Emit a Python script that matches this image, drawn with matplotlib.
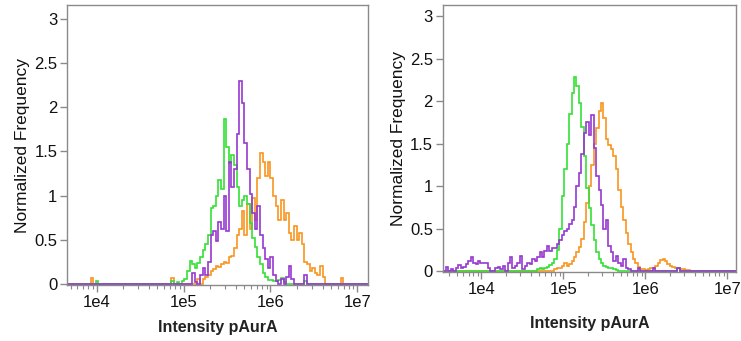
import numpy as np
import matplotlib
matplotlib.use("Agg")
import matplotlib.pyplot as plt

plt.rcParams['font.family'] = ['Liberation Sans', 'DejaVu Sans']

# common histogram grid, log10(intensity), 0.03 decade per bin
GRID_START = 3.48
GRID_STEP = 0.03
edges_exp = np.round(np.arange(GRID_START, 7.2, GRID_STEP), 3)
edges = 10 ** edges_exp

# --- left panel ---
green_left_start = 4.965
green_left = [0.0, 0.03, 0.05, 0.15, 0.26, 0.22, 0.18, 0.24, 0.3, 0.38, 0.45,
              0.55, 0.86, 0.88, 1.0, 1.18, 1.08, 1.87, 1.55, 1.37, 1.46, 1.35,
              1.1, 0.88, 0.95, 0.99, 0.91, 0.69, 0.52, 0.42, 0.3, 0.22, 0.12,
              0.08, 0.045, 0.04, 0.03, 0.03, 0.04, 0.06, 0.02]
green_left_blips = [(4.005, 0.03), (4.875, 0.03), (4.935, 0.02), (6.405, 0.03)]

purple_left_start = 5.085
purple_left = [0.0, 0.12, 0.02, 0.0, 0.1, 0.18, 0.1, 0.25, 0.55, 0.6, 0.48,
               0.7, 0.62, 1.0, 0.6, 1.38, 1.1, 1.3, 1.7, 2.3, 2.05, 1.6, 1.3,
               1.02, 0.8, 0.62, 0.88, 0.55, 0.4, 0.28, 0.18, 0.3, 0.1, 0.03,
               0.0, 0.05, 0.0, 0.08, 0.2, 0.05, 0.0, 0.0, 0.0, 0.0, 0.1, 0.0]
purple_left_blips = []

orange_left_start = 5.175
orange_left = [0.05, 0.0, 0.05, 0.08, 0.1, 0.15, 0.17, 0.2, 0.19, 0.22, 0.25,
               0.24, 0.3, 0.32, 0.4, 0.55, 0.62, 0.82, 0.55, 0.9, 0.62, 0.97,
               0.72, 1.2, 1.48, 1.38, 1.22, 1.38, 1.2, 1.0, 0.88, 0.72, 0.95,
               0.72, 0.8, 0.58, 0.5, 0.66, 0.5, 0.58, 0.45, 0.25, 0.22, 0.15,
               0.18, 0.12, 0.1, 0.2, 0.08, 0.0]
orange_left_blips = [(3.945, 0.07), (4.875, 0.07), (6.825, 0.07)]

# --- right panel ---
green_right_start = 4.695
green_right = [0.02, 0.03, 0.02, 0.04, 0.05, 0.07, 0.1, 0.14, 0.25, 0.5, 0.88,
               1.2, 1.5, 1.85, 2.1, 2.28, 2.18, 1.98, 1.7, 1.35, 0.98, 0.74,
               0.54, 0.36, 0.22, 0.14, 0.09, 0.06, 0.05, 0.04, 0.03, 0.02, 0.01]
green_right_blips = [(6.405, 0.03)]

purple_right_start = 3.585
purple_right = [0.05, 0.0, 0.02, 0.0, 0.04, 0.07, 0.04, 0.05, 0.08, 0.12, 0.17,
                0.1, 0.08, 0.12, 0.1, 0.1, 0.1, 0.03, 0.0, 0.0, 0.03, 0.05,
                0.02, 0.06, 0.0, 0.1, 0.16, 0.03, 0.06, 0.1, 0.18, 0.02, 0.06,
                0.1, 0.08, 0.14, 0.12, 0.16, 0.22, 0.17, 0.24, 0.3, 0.24, 0.27,
                0.27, 0.32, 0.37, 0.42, 0.47, 0.5, 0.55, 0.6, 0.75, 1.0, 1.15,
                1.38, 1.62, 1.75, 1.6, 1.84, 1.45, 1.12, 0.95, 0.78, 0.5, 0.6,
                0.3, 0.22, 0.12, 0.18, 0.1, 0.06, 0.14, 0.04, 0.02]
purple_right_blips = [(5.925, 0.04), (6.105, 0.04), (6.405, 0.04)]

orange_right_start = 4.905
orange_right = [0.02, 0.03, 0.04, 0.06, 0.1, 0.06, 0.08, 0.12, 0.17, 0.22,
                0.28, 0.38, 0.58, 0.8, 1.0, 1.25, 1.5, 1.68, 1.88, 1.98, 1.8,
                1.55, 1.48, 1.44, 1.35, 1.2, 0.95, 0.75, 0.6, 0.45, 0.32, 0.22,
                0.14, 0.1, 0.05, 0.02, 0.02, 0.01, 0.02, 0.03, 0.04, 0.06, 0.1,
                0.13, 0.14, 0.12, 0.08, 0.06, 0.05, 0.04, 0.03, 0.02, 0.02,
                0.01, 0.01]
orange_right_blips = []

x_ticks = [1e4, 1e5, 1e6, 1e7]
x_tick_labels = ['1e4', '1e5', '1e6', '1e7']
y_ticks = [0, 0.5, 1, 1.5, 2, 2.5, 3]
y_tick_labels = ['0', '0.5', '1', '1.5', '2', '2.5', '3']

GREEN = '#35e035'
PURPLE = '#9638d0'
ORANGE = '#f7961f'
GRAY = '#8a8a8a'


def bin_index(center):
    return int(round((center - GRID_START - GRID_STEP / 2) / GRID_STEP))


def build(start, heights, blips):
    vals = np.zeros(len(edges) - 1)
    i0 = bin_index(start)
    vals[i0:i0 + len(heights)] = heights
    for c, h in blips:
        vals[bin_index(c)] = h
    return vals


def style(ax, xlim, ylim, xlabel_pad):
    ax.set_xscale('log')
    ax.set_xlim(*xlim)
    ax.set_ylim(*ylim)
    ax.set_xticks(x_ticks)
    ax.set_xticklabels(x_tick_labels)
    ax.set_yticks(y_ticks)
    ax.set_yticklabels(y_tick_labels)
    for s in ax.spines.values():
        s.set_color(GRAY)
        s.set_linewidth(1.0)
    ax.tick_params(axis='both', which='major', direction='out', color=GRAY,
                   length=5, width=1.0, labelsize=12, pad=2, labelcolor='#111111')
    ax.tick_params(axis='x', which='minor', direction='out', color=GRAY,
                   length=3, width=0.8)
    ax.set_ylabel('Normalized Frequency', fontsize=12.5, color='#111111',
                  labelpad=3)
    ax.set_xlabel('Intensity pAurA', fontsize=11.5, fontweight='bold',
                  color='#222222', labelpad=xlabel_pad)


fig = plt.figure(figsize=(7.41, 3.41), dpi=100)
ax1 = fig.add_axes([0.0904, 0.164, 0.4062, 0.821])
ax2 = fig.add_axes([0.5974, 0.2023, 0.3960, 0.7827])

for ax, series in [
    (ax1, [(orange_left_start, orange_left, orange_left_blips, ORANGE),
           (green_left_start, green_left, green_left_blips, GREEN),
           (purple_left_start, purple_left, purple_left_blips, PURPLE)]),
    (ax2, [(orange_right_start, orange_right, orange_right_blips, ORANGE),
           (green_right_start, green_right, green_right_blips, GREEN),
           (purple_right_start, purple_right, purple_right_blips, PURPLE)]),
]:
    for start, heights, blips, color in series:
        ax.stairs(build(start, heights, blips), edges, color=color, lw=1.2)

style(ax1, (10 ** 3.658, 10 ** 7.122), (-0.015, 3.16), 7)
style(ax2, (10 ** 3.529, 10 ** 7.107), (-0.012, 3.13), 14)

fig.savefig('out.png', dpi=100)
